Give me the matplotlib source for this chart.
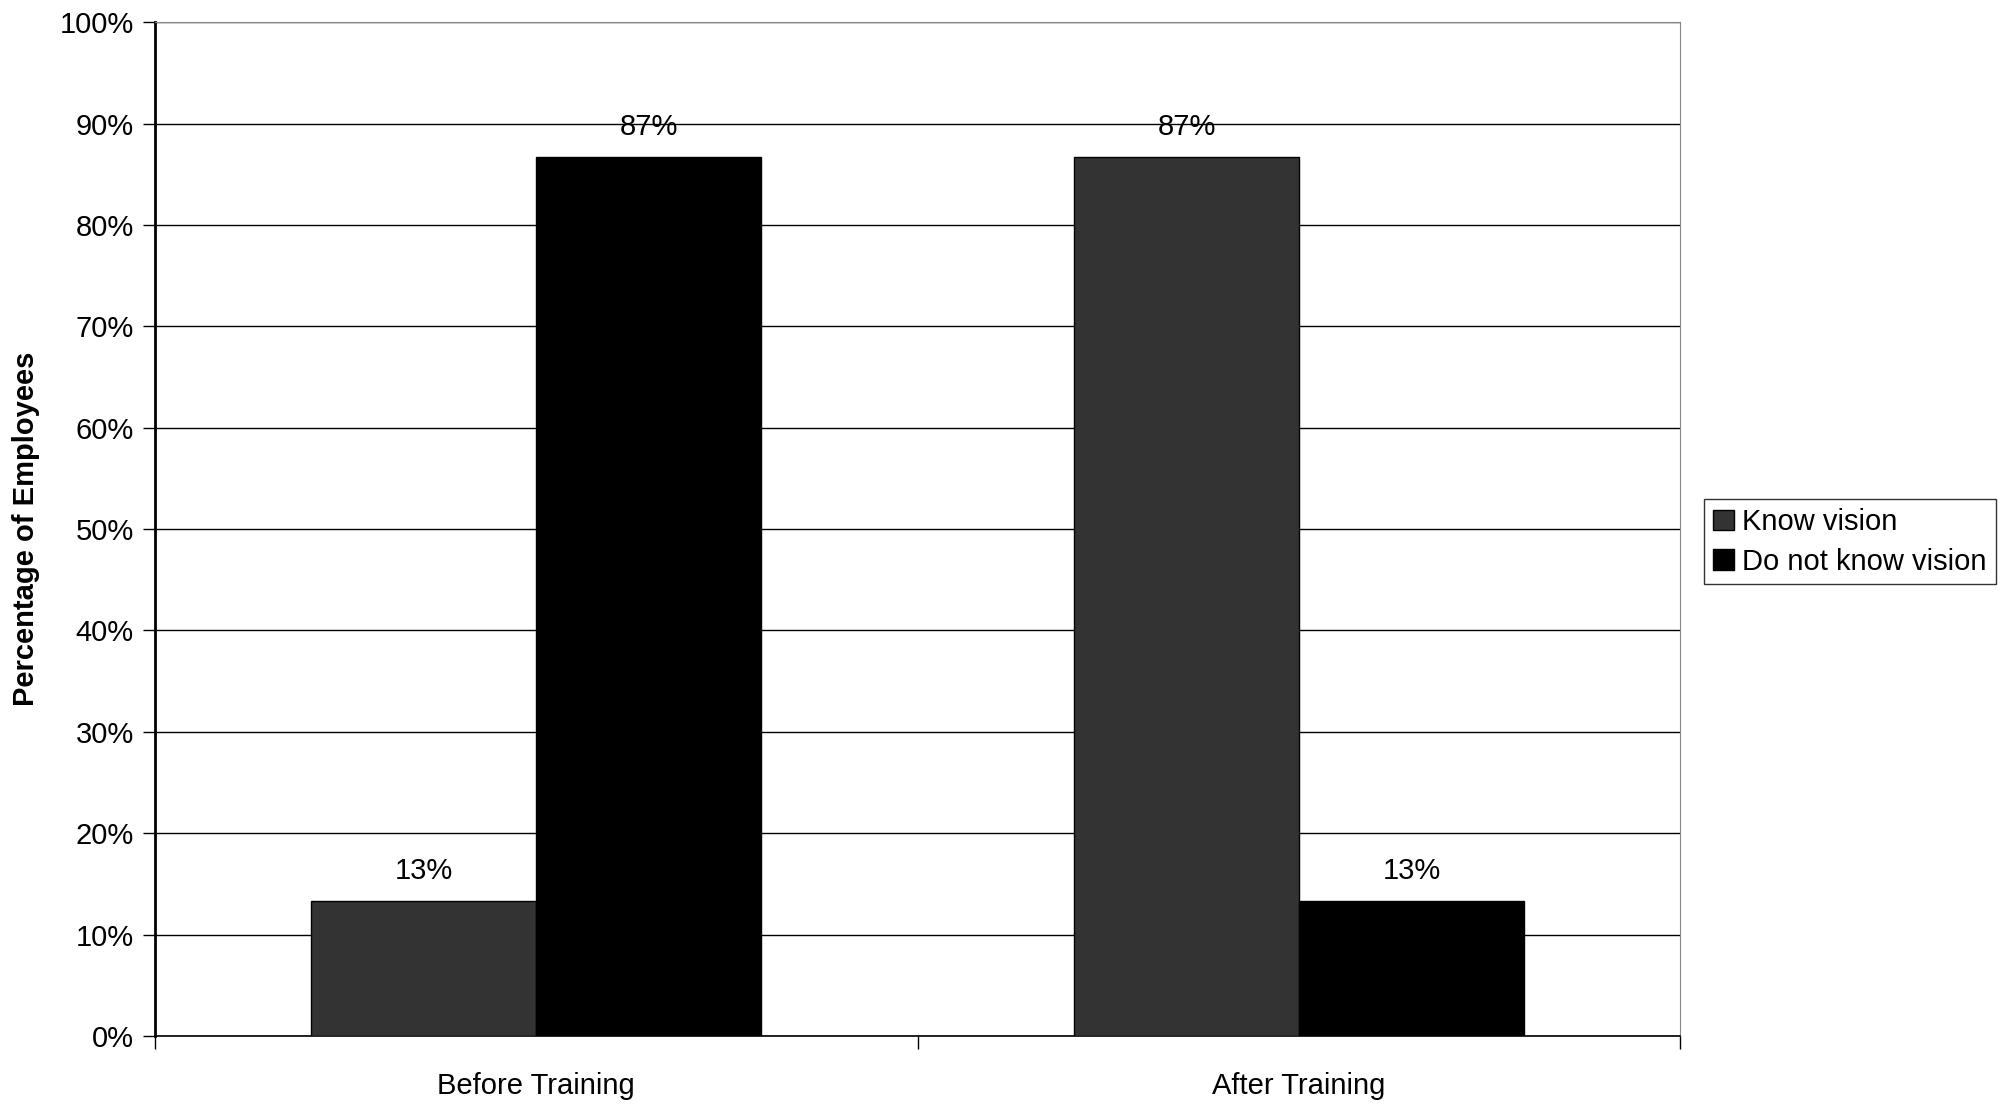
import numpy as np
import matplotlib.pyplot as plt
from matplotlib.ticker import FixedLocator, PercentFormatter

plt.rcParams['font.family'] = ['Liberation Sans', 'DejaVu Sans']

# data
groups = ['Before Training', 'After Training']
know = [13.3, 86.7]
dont_know = [86.7, 13.3]
series_names = ['Know vision', 'Do not know vision']
yticks = [0, 10, 20, 30, 40, 50, 60, 70, 80, 90, 100]

fig = plt.figure(figsize=(20.10, 11.08), dpi=100)
ax = fig.add_axes([0.077, 0.065, 0.759, 0.915])

x = np.arange(len(groups))
w = 0.295
b1 = ax.bar(x - w/2, know, w, color='#333333', edgecolor='black', linewidth=1, label=series_names[0], zorder=3)
b2 = ax.bar(x + w/2, dont_know, w, color='black', edgecolor='black', linewidth=1, label=series_names[1], zorder=3)

for bars in (b1, b2):
    for r in bars:
        h = r.get_height()
        ax.text(r.get_x() + r.get_width()/2, h + 1.6, '%.0f%%' % h,
                ha='center', va='bottom', fontsize=21, zorder=4)

ax.set_xlim(-0.5, 1.5)
ax.set_ylim(0, 100)
ax.yaxis.set_major_locator(FixedLocator(yticks))
ax.yaxis.set_major_formatter(PercentFormatter(decimals=0))
ax.grid(axis='y', color='black', linewidth=1, zorder=0)

ax.set_xticks(x)
ax.set_xticklabels(groups)
ax.set_xticks([-0.5, 0.5, 1.5], minor=True)
ax.tick_params(axis='x', which='major', length=0, pad=26, labelsize=21)
ax.tick_params(axis='x', which='minor', length=9, width=1)
ax.tick_params(axis='y', length=9, width=1, pad=6, labelsize=21)

ax.spines['left'].set_linewidth(2)
ax.spines['bottom'].set_linewidth(1.2)
ax.spines['top'].set_color('#888888')
ax.spines['right'].set_color('#888888')

ax.set_ylabel('Percentage of Employees', fontsize=21, fontweight='bold', labelpad=14)

fig.legend(handles=[b1, b2], loc='center left', bbox_to_anchor=(0.848, 0.511),
           fontsize=21, frameon=True, fancybox=False, edgecolor='black',
           handlelength=0.7, handleheight=0.7, handletextpad=0.3,
           borderpad=0.3, labelspacing=0.4, borderaxespad=0)

fig.savefig('out.png', dpi=100, facecolor='white')
